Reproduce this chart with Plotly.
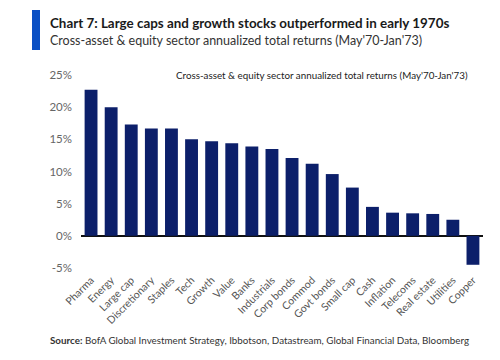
import plotly.graph_objects as go

categories = ["Pharma", "Energy", "Large cap", "Discretionary", "Staples", "Tech", "Growth",
              "Value", "Banks", "Industrials", "Corp bonds", "Commod", "Govt bonds", "Small cap",
              "Cash", "Inflation", "Telecoms", "Real estate", "Utilities", "Copper"]
returns = [22.7, 20.0, 17.3, 16.7, 16.7, 15.0, 14.7, 14.4, 13.9, 13.5, 12.1, 11.2, 9.6, 7.5,
           4.5, 3.6, 3.5, 3.4, 2.5, -4.5]
tick_vals = [-5, 0, 5, 10, 15, 20, 25]
tick_text = ["-5%", "0%", "5%", "10%", "15%", "20%", "25%"]

FONT = "Lato"
NAVY = "#0c1f6a"

fig = go.Figure(go.Bar(x=categories, y=returns, marker_color=NAVY, marker_line_width=0))

L, R, T, B = 73, 25, 67, 100
W, H = 500, 360
pw, ph = W - L - R, H - T - B

def px(x):
    return (x - L) / pw

def py(y):
    return (H - B - y) / ph

fig.update_layout(
    width=W, height=H,
    margin=dict(l=L, r=R, t=T, b=B, autoexpand=False),
    paper_bgcolor="white", plot_bgcolor="white",
    bargap=0.36, showlegend=False,
    font=dict(family=FONT, color="#555555"),
    xaxis=dict(showgrid=False, showline=False, zeroline=False, tickangle=-45,
               tickfont=dict(size=10.5, color="#555555"), ticks="", ticklabelstandoff=3),
    yaxis=dict(range=[-5, 25], tickvals=tick_vals, ticktext=tick_text, showgrid=False,
               zeroline=True, zerolinecolor="#111111", zerolinewidth=1.5, showline=False,
               tickfont=dict(size=11.5, color="#666666"), ticklabelstandoff=8),
    shapes=[dict(type="rect", xref="paper", yref="paper", x0=px(24), x1=px(32), y0=py(42), y1=py(2),
                 fillcolor="#0a4fc4", line_width=0)],
    annotations=[
        dict(text="<b>Chart 7: Large caps and growth stocks outperformed in early 1970s</b>",
             xref="paper", yref="paper", x=px(40), y=py(15), xanchor="left", yanchor="middle",
             showarrow=False, font=dict(size=13.4, color="#1a1a1a", family=FONT)),
        dict(text="Cross-asset &amp; equity sector annualized total returns (May'70-Jan'73)",
             xref="paper", yref="paper", x=px(40), y=py(32), xanchor="left", yanchor="middle",
             showarrow=False, font=dict(size=12.5, color="#333333", family=FONT)),
        dict(text="Cross-asset &amp; equity sector annualized total returns (May'70-Jan'73)",
             xref="paper", yref="paper", x=px(314), y=py(67), xanchor="center", yanchor="middle",
             showarrow=False, font=dict(size=9.8, color="#222222", family=FONT)),
        dict(text="<b>Source:</b> BofA Global Investment Strategy, Ibbotson, Datastream, Global Financial Data, Bloomberg",
             xref="paper", yref="paper", x=px(40), y=py(332), xanchor="left", yanchor="middle",
             showarrow=False, font=dict(size=9.8, color="#333333", family=FONT)),
    ],
)

fig.write_html("out.html")
